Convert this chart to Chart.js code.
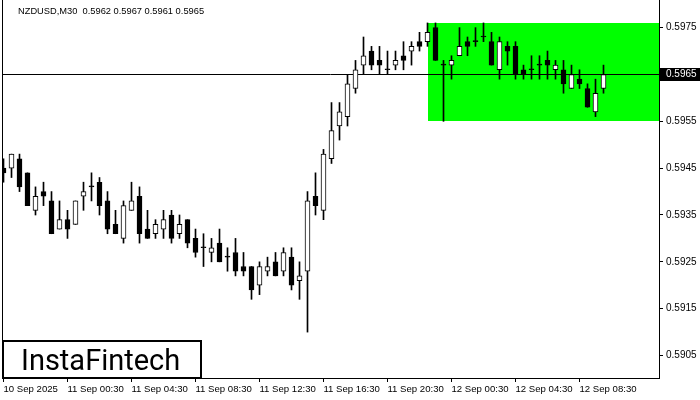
<!DOCTYPE html>
<html><head><meta charset="utf-8">
<script src="https://cdn.jsdelivr.net/npm/chart.js@4.4.1/dist/chart.umd.min.js"></script>
<style>html,body{margin:0;padding:0;background:#fff;overflow:hidden}canvas{display:block}</style>
</head><body><canvas id="c" width="700" height="400"></canvas>
<script>
// ---- data ----
const symbolTitle = "NZDUSD,M30";
const opens  = [0.5945,0.5945,0.5947,0.5944,0.5936,0.5940,0.5938,0.5932,0.5934,0.5933,
                0.5939,0.5941,0.5942,0.5938,0.5933,0.5930,0.5936,0.5939,0.5932,0.5931,
                0.5932,0.5935,0.5931,0.5934,0.5930,0.5928,0.5927,0.5929,0.5926,0.5927,
                0.5924,0.5924,0.5920,0.5923,0.5925,0.5923,0.5926,0.5921,0.5923,0.5939,
                0.5936,0.5947,0.5954,0.5956,0.5962,0.5967,0.5970,0.5968,0.5966,0.5967,
                0.5969,0.5970,0.5972,0.5972,0.5975,0.5967,0.5967,0.5969,0.5972,0.5972,
                0.5973,0.5972,0.5966,0.5971,0.5971,0.5966,0.5966,0.5967,0.5968,0.5966,
                0.5966,0.5962,0.5964,0.5962,0.5957,0.5962];
const highs  = [0.5947,0.5948,0.5948,0.5944,0.5941,0.5942,0.5940,0.5938,0.5936,0.5938,
                0.5942,0.5944,0.5943,0.5940,0.5936,0.5938,0.5942,0.5941,0.5936,0.5934,
                0.5936,0.5936,0.5935,0.5934,0.5932,0.5931,0.5930,0.5932,0.5928,0.5930,
                0.5927,0.5924,0.5925,0.5926,0.5927,0.5928,0.5928,0.5925,0.5940,0.5944,
                0.5949,0.5959,0.5959,0.5965,0.5968,0.5973,0.5971,0.5971,0.5970,0.5970,
                0.5972,0.5972,0.5974,0.5976,0.5976,0.5968,0.5969,0.5975,0.5973,0.5975,
                0.5976,0.5974,0.5973,0.5972,0.5972,0.5967,0.5969,0.5969,0.5970,0.5968,
                0.5968,0.5967,0.5966,0.5963,0.5964,0.5967];
const lows   = [0.5942,0.5943,0.5940,0.5937,0.5935,0.5937,0.5931,0.5932,0.5930,0.5933,
                0.5936,0.5938,0.5935,0.5931,0.5931,0.5929,0.5936,0.5929,0.5930,0.5930,
                0.5930,0.5929,0.5930,0.5928,0.5926,0.5924,0.5925,0.5925,0.5923,0.5922,
                0.5922,0.5917,0.5918,0.5922,0.5922,0.5922,0.5919,0.5917,0.5910,0.5935,
                0.5934,0.5946,0.5951,0.5954,0.5961,0.5965,0.5966,0.5965,0.5965,0.5966,
                0.5966,0.5967,0.5970,0.5971,0.5968,0.5955,0.5964,0.5969,0.5969,0.5971,
                0.5972,0.5967,0.5964,0.5967,0.5964,0.5964,0.5964,0.5964,0.5964,0.5964,
                0.5961,0.5962,0.5962,0.5958,0.5956,0.5961];
const closes = [0.5944,0.5948,0.5941,0.5937,0.5939,0.5939,0.5931,0.5934,0.5932,0.5938,
                0.5940,0.5941,0.5937,0.5932,0.5931,0.5937,0.5938,0.5931,0.5930,0.5933,
                0.5934,0.5930,0.5933,0.5929,0.5927,0.5928,0.5928,0.5925,0.5926,0.5923,
                0.5923,0.5919,0.5924,0.5924,0.5922,0.5927,0.5920,0.5922,0.5938,0.5937,
                0.5948,0.5953,0.5957,0.5963,0.5966,0.5969,0.5967,0.5967,0.5966,0.5968,
                0.5968,0.5971,0.5971,0.5974,0.5968,0.5967,0.5968,0.5971,0.5971,0.5972,
                0.5973,0.5967,0.5972,0.5970,0.5965,0.5965,0.5966,0.5967,0.5967,0.5967,
                0.5963,0.5965,0.5963,0.5958,0.5961,0.5965];
const xTickIndex  = [0, 8, 16, 24, 32, 40, 48, 56, 64, 72];
const xTickLabels = ["10 Sep 2025","11 Sep 00:30","11 Sep 04:30","11 Sep 08:30","11 Sep 12:30",
                     "11 Sep 16:30","11 Sep 20:30","12 Sep 00:30","12 Sep 04:30","12 Sep 08:30"];
const yTicks = [0.5905, 0.5915, 0.5925, 0.5935, 0.5945, 0.5955, 0.5965, 0.5975];
const currentPrice = 0.5965;
const zoneStartIndex = 53;
const zoneLow = 0.5955, zoneHigh = 0.5976;
const logoText = "InstaFintech";

// ---- build ----
const n = opens.length;
const idx = opens.map((_, i) => i);
const wickData = idx.map(i => ({x: i, y: [lows[i], highs[i]]}));
const bodyData = idx.map(i => ({x: i, y: [Math.min(opens[i], closes[i]), Math.max(opens[i], closes[i])]}));
const bodyFill = idx.map(i => closes[i] > opens[i] ? '#ffffff' : '#000000');

Chart.defaults.font.family = "'Liberation Sans', Arial, sans-serif";
Chart.defaults.font.size = 10;
Chart.defaults.color = '#000';

const noPad = (s) => { s.paddingTop = 0; s.paddingBottom = 0; s.paddingLeft = 0; s.paddingRight = 0; };

const overlay = {
  id: 'overlay',
  beforeDatasetsDraw(chart) {
    const {ctx, chartArea: a, scales: {x, y}} = chart;
    ctx.save();
    const x0 = Math.round(x.getPixelForValue(zoneStartIndex));
    const yT = Math.round(y.getPixelForValue(zoneHigh)), yB = Math.round(y.getPixelForValue(zoneLow));
    ctx.fillStyle = '#00ff00';
    ctx.fillRect(x0, yT, a.right - x0, yB - yT);
    const py = Math.round(y.getPixelForValue(currentPrice)) + 0.5;
    ctx.strokeStyle = '#000'; ctx.lineWidth = 1;
    ctx.beginPath(); ctx.moveTo(a.left, py); ctx.lineTo(a.right, py); ctx.stroke();
    ctx.restore();
  },
  afterDraw(chart) {
    const {ctx, chartArea: a, scales: {y}} = chart;
    ctx.save();
    // header
    ctx.fillStyle = '#000';
    ctx.font = "9.3px 'Liberation Sans', Arial, sans-serif";
    ctx.textBaseline = 'middle'; ctx.textAlign = 'left';
    const hdr = symbolTitle + "  " + [opens[n-1], highs[n-1], lows[n-1], closes[n-1]].map(v => v.toFixed(4)).join(' ');
    ctx.fillText(hdr, a.left + 16, 11);
    // current price label
    const py = Math.round(y.getPixelForValue(currentPrice));
    ctx.fillStyle = '#000';
    ctx.fillRect(a.right + 1, py - 6, 700 - a.right - 1, 13);
    ctx.fillStyle = '#fff';
    ctx.font = "10px 'Liberation Sans', Arial, sans-serif";
    ctx.fillText(currentPrice.toFixed(4), a.right + 7, py + 0.5);
    // logo
    ctx.fillStyle = '#fff';
    ctx.fillRect(3, 340, 198, 38);
    ctx.strokeStyle = '#000'; ctx.lineWidth = 2;
    ctx.strokeRect(3, 341, 198, 37);
    ctx.fillStyle = '#000';
    ctx.font = "400 29px Roboto, 'Open Sans', sans-serif";
    ctx.textBaseline = 'alphabetic';
    ctx.fillText(logoText, 21, 370);
    ctx.restore();
  }
};

new Chart(document.getElementById('c'), {
  type: 'bar',
  data: {
    datasets: [
      {label: 'body', data: bodyData, backgroundColor: bodyFill, borderColor: '#000', borderWidth: 1,
       borderSkipped: false, barThickness: 5, minBarLength: 1, grouped: false, order: 0, yAxisID: 'y'},
      {label: 'wick', data: wickData, backgroundColor: '#000', borderWidth: 0,
       barThickness: 1, grouped: false, order: 1, yAxisID: 'y'}
    ]
  },
  options: {
    responsive: false, animation: false, devicePixelRatio: 1,
    layout: {padding: 0},
    plugins: {legend: {display: false}, tooltip: {enabled: false}, title: {display: false}},
    scales: {
      x: {
        type: 'linear', position: 'bottom', min: -0.1875, max: 81.9375, offset: false, bounds: 'data',
        grid: {display: true, drawOnChartArea: false, drawTicks: true, tickLength: 4, color: '#000', offset: false},
        border: {display: true, color: '#000', width: 1},
        ticks: {autoSkip: false, maxRotation: 0, minRotation: 0, align: 'start', padding: 2,
                font: {size: 9.6},
                callback: (v) => { const k = xTickIndex.indexOf(v); return k >= 0 ? xTickLabels[k] : ''; }},
        afterBuildTicks: (s) => { s.ticks = xTickIndex.map(v => ({value: v})); },
        afterFit: (s) => { s.height = 22; noPad(s); }
      },
      y: {
        type: 'linear', position: 'right', min: 0.59002, max: 0.59809, beginAtZero: false, bounds: 'data',
        grid: {display: true, drawOnChartArea: false, drawTicks: true, tickLength: 4, color: '#000'},
        border: {display: true, color: '#000', width: 1},
        ticks: {padding: 3, callback: (v) => v.toFixed(4)},
        afterBuildTicks: (s) => { s.ticks = yTicks.map(v => ({value: v})); },
        afterFit: (s) => { s.width = 41; noPad(s); }
      },
      yL: {
        type: 'linear', position: 'left', display: true,
        grid: {display: false}, ticks: {display: false},
        border: {display: true, color: '#000', width: 1},
        afterFit: (s) => { s.width = 2; noPad(s); }
      }
    }
  },
  plugins: [overlay]
});
</script>
</body></html>
